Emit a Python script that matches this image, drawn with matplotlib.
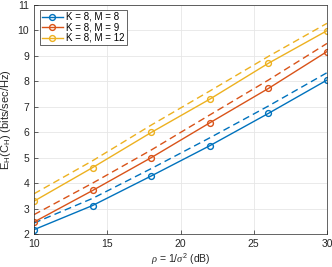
import matplotlib
matplotlib.use("Agg")
import matplotlib.pyplot as plt

plt.rcParams["font.family"] = ["Liberation Sans", "DejaVu Sans"]
plt.rcParams["mathtext.fontset"] = "custom"
plt.rcParams["mathtext.rm"] = "Liberation Sans"
plt.rcParams["mathtext.it"] = "Liberation Serif:italic"

# SNR points (dB)
snr = [10, 14, 18, 22, 26, 30]

# solid curves (with markers)
m8_solid = [2.17, 3.12, 4.28, 5.47, 6.74, 8.05]
m9_solid = [2.47, 3.71, 5.00, 6.37, 7.72, 9.17]
m12_solid = [3.29, 4.61, 5.99, 7.30, 8.71, 9.99]

# dashed curves (no markers)
m8_dash = [2.43, 3.40, 4.57, 5.78, 7.03, 8.34]
m9_dash = [2.76, 4.00, 5.30, 6.68, 8.05, 9.49]
m12_dash = [3.58, 4.88, 6.28, 7.62, 8.98, 10.28]

labels = ["K = 8, M = 8", "K = 8, M = 9", "K = 8, M = 12"]
colors = ["#0072BD", "#D95319", "#EDB120"]

fig = plt.figure(figsize=(3.32, 2.67), dpi=100)
ax = fig.add_axes([34 / 332, 33 / 267, 293 / 332, 229 / 267])

for sol, das, lab, c in zip([m8_solid, m9_solid, m12_solid],
                            [m8_dash, m9_dash, m12_dash], labels, colors):
    ax.plot(snr, sol, color=c, linewidth=1.0, marker="o", markersize=4.2,
            markerfacecolor="none", markeredgewidth=1.0, label=lab)
    ax.plot(snr, das, color=c, linewidth=1.0, linestyle=(0, (5, 3)))

ax.set_xlim(10, 30)
ax.set_ylim(2, 11)
ax.set_xticks([10, 15, 20, 25, 30])
ax.set_yticks(range(2, 12))
ax.grid(True, color="#e6e6e6", linewidth=0.6)
ax.set_axisbelow(True)
ax.tick_params(direction="in", labelsize=7.5, colors="#262626", length=3, width=0.5)
for s in ax.spines.values():
    s.set_color("#262626")
    s.set_linewidth(0.5)

ax.set_xlabel(r"$\it{\rho}$ = 1/$\it{\sigma}^2$ (dB)", fontsize=7.5, color="#262626", labelpad=2)
ax.set_ylabel(r"E$_{\rm H}$(C$_{\rm H}$) (bits/sec/Hz)", fontsize=8, color="#262626", labelpad=3)

leg = ax.legend(loc="upper left", fontsize=7, handlelength=2.2, handletextpad=0.3,
                borderpad=0.2, labelspacing=0.05, fancybox=False,
                edgecolor="#262626", framealpha=1, bbox_to_anchor=(0.02, 0.978),
                borderaxespad=0)
leg.get_frame().set_linewidth(0.5)

fig.savefig("out.png", dpi=100)
